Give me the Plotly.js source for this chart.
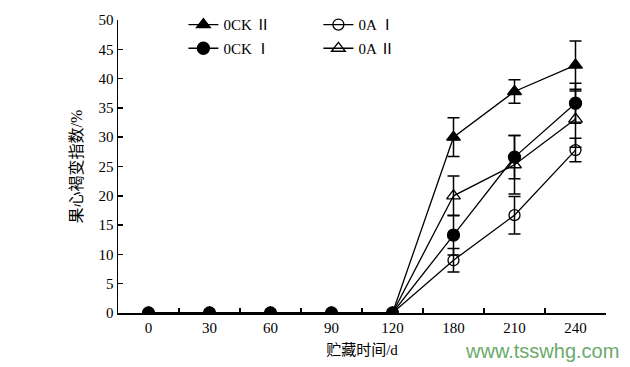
<!DOCTYPE html>
<html><head><meta charset="utf-8">
<script src="https://cdn.plot.ly/plotly-3.0.1.min.js"></script>
<style>body{margin:0;background:#fff}#c{width:630px;height:367px}</style>
</head><body><div id="c"></div>
<script>
const days = ['0','30','60','90','120','180','210','240'];
const ockII = [0,0,0,0,0,30.0,37.8,42.3];
const ockIIErr = [0,0,0,0,0,3.3,2.0,4.1];
const oaI = [0,0,0,0,0,9.0,16.7,27.8];
const oaIErr = [0,0,0,0,0,2.0,3.2,2.0];
const ockI = [0,0,0,0,0,13.3,26.6,35.8];
const ockIErr = [0,0,0,0,0,3.4,3.7,3.4];
const oaII = [0,0,0,0,0,20.0,25.3,33.1];
const oaIIErr = [0,0,0,0,0,3.4,5.0,4.8];
const names = ['0CK Ⅱ','0A Ⅰ','0CK Ⅰ','0A Ⅱ'];

function tr(y, e, name, sym, size, legend){
  return {x: days, y: y, name: name, type:'scatter', mode:'lines+markers',
    legend: legend, cliponaxis:true,
    line:{color:'#000', width:1.3},
    marker:{symbol:sym, size:size, color:'#000', line:{color:'#000', width:1.3}},
    error_y:{type:'data', array:e, visible:true, color:'#000', thickness:1.5, width:6}};
}
const data = [
  tr(ockII, ockIIErr, names[0], 'triangle-up', 12, 'legend'),
  tr(oaI, oaIErr, names[1], 'circle-open', 11, 'legend'),
  tr(ockI, ockIErr, names[2], 'circle', 12, 'legend2'),
  tr(oaII, oaIIErr, names[3], 'triangle-up-open', 12, 'legend2')
];
const fontSerif = '"Liberation Serif", "Noto Sans CJK SC", serif';
const legendBase = {orientation:'h', xanchor:'left', yanchor:'top', x:0.134,
  bgcolor:'rgba(0,0,0,0)', font:{family:fontSerif, size:15, color:'#000'},
  entrywidth:90, entrywidthmode:'pixels', itemwidth:30};
const layout = {
  width:630, height:367,
  margin:{l:118, r:24, t:20, b:54, autoexpand:false},
  paper_bgcolor:'#fff', plot_bgcolor:'#fff',
  showlegend:true,
  legend: Object.assign({}, legendBase, {y:1.040}),
  legend2: Object.assign({}, legendBase, {y:0.959}),
  xaxis:{type:'category', categoryarray:days, range:[-0.5,7.5],
    showline:true, linecolor:'#000', linewidth:1.5, showgrid:false, zeroline:false,
    ticks:'inside', tickson:'boundaries', ticklen:5, tickcolor:'#000', tickwidth:1.5,
    tickfont:{family:fontSerif, size:15, color:'#000'},
    title:{text:'贮藏时间/d', font:{family:fontSerif, size:15, color:'#000'}, standoff:10}},
  yaxis:{range:[0,50], dtick:5, showline:true, linecolor:'#000', linewidth:1.5,
    showgrid:false, zeroline:false, ticks:'inside', ticklen:5, tickcolor:'#000', tickwidth:1.5,
    tickfont:{family:fontSerif, size:15, color:'#000'},
    title:{text:'果心褐变指数/%', font:{family:fontSerif, size:16, color:'#000'}, standoff:12}},
  annotations:[{xref:'paper', yref:'paper', x:1.03, y:-0.13, xanchor:'right', yanchor:'middle',
    text:'www.tsswhg.com', showarrow:false,
    font:{family:'"Liberation Sans", Arial, sans-serif', size:20, color:'#6aaa6a'}}]
};
Plotly.newPlot('c', data, layout, {displayModeBar:false, staticPlot:true});
</script></body></html>
